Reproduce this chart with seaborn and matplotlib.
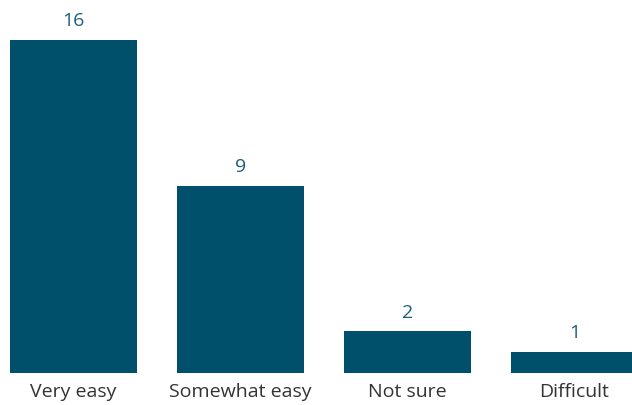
import matplotlib
matplotlib.use("Agg")
import matplotlib.pyplot as plt
import seaborn as sns
import pandas as pd

categories = ["Very easy", "Somewhat easy", "Not sure", "Difficult"]
values = [16, 9, 2, 1]

sns.set_theme(style="white")
plt.rcParams['font.family'] = ['Open Sans', 'DejaVu Sans']

df = pd.DataFrame({"category": categories, "value": values})

fig = plt.figure(figsize=(6.32, 4.05), dpi=100)
ax = fig.add_axes([0, 32 / 405, 1, 373 / 405])

sns.barplot(data=df, x="category", y="value", color="#01506B", saturation=1,
            width=0.76, linewidth=0, ax=ax)

ax.set_xlim(-73.5 / 167, (632 - 73.5) / 167)
ax.set_ylim(0, 373 / 20.8)

for i, v in enumerate(values):
    ax.annotate(str(v), xy=(i, v), xytext=(0, 7), textcoords="offset points",
                ha="center", va="bottom", fontsize=14, color="#1E5E7A")

ax.set_xlabel("")
ax.set_ylabel("")
ax.set_yticks([])
ax.tick_params(axis="x", length=0, pad=7, labelsize=14, labelcolor="#333333")
for s in ax.spines.values():
    s.set_visible(False)

fig.savefig("out.png", dpi=100)
